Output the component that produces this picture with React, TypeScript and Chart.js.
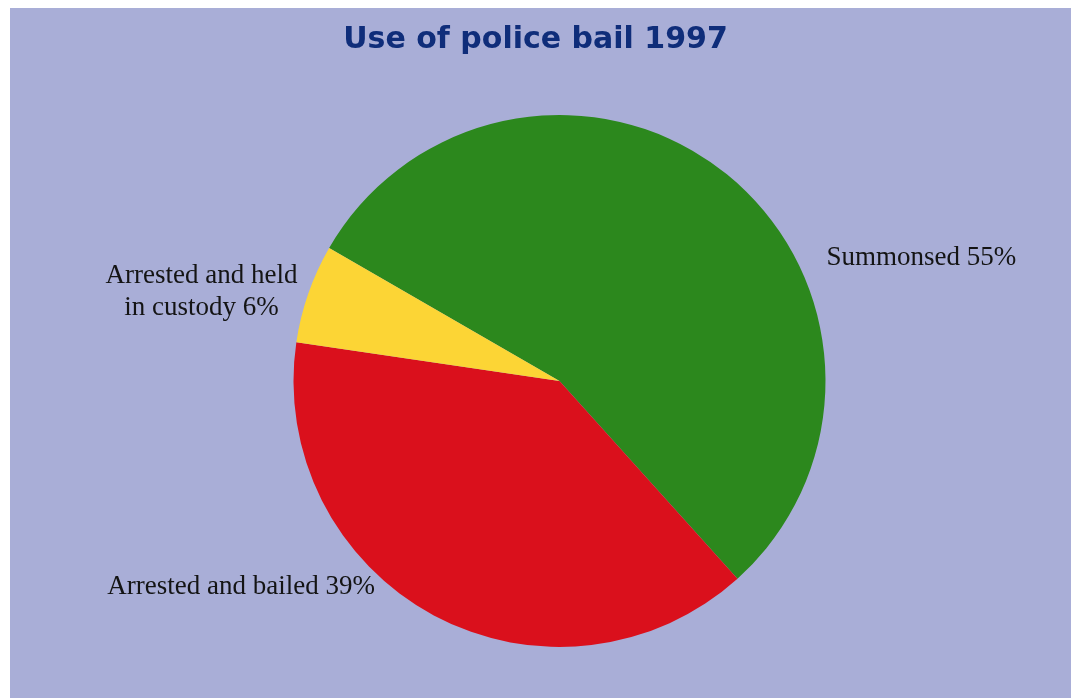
import React, { useEffect, useRef } from "react";
import { Chart, registerables } from "chart.js";

Chart.register(...registerables);

const TITLE = "Use of police bail 1997";
const categories = ["Summonsed", "Arrested and bailed", "Arrested and held in custody"];
const values = [55, 39, 6];
const colors = ["#2c881d", "#da101c", "#fcd535"];
const labelLines = [
  ["Summonsed 55%"],
  ["Arrested and bailed 39%"],
  ["Arrested and held", "in custody 6%"],
];

// label placement relative to pie centre, in units of radius
const labelPlacement = [
  { dx: 1.004, dy: -0.462, align: "left" as CanvasTextAlign },
  { dx: -1.7, dy: 0.775, align: "left" as CanvasTextAlign },
  { dx: -1.346, dy: -0.395, align: "center" as CanvasTextAlign },
];

const W = 1071;
const H = 698;

const backgroundPlugin = {
  id: "bgPanel",
  beforeDraw(chart: any) {
    const ctx = chart.ctx as CanvasRenderingContext2D;
    ctx.save();
    ctx.fillStyle = "#ffffff";
    ctx.fillRect(0, 0, chart.width, chart.height);
    ctx.fillStyle = "#a9aed7";
    ctx.fillRect(10, 8, chart.width - 10, chart.height - 8);
    // title
    ctx.fillStyle = "#0f2d7a";
    ctx.font = "bold 30px 'DejaVu Sans', Verdana, sans-serif";
    ctx.textAlign = "center";
    ctx.textBaseline = "alphabetic";
    ctx.fillText(TITLE, chart.width / 2, 48);
    ctx.restore();
  },
};

const labelPlugin = {
  id: "pieLabels",
  afterDatasetsDraw(chart: any) {
    const meta = chart.getDatasetMeta(0);
    const arc = meta.data[0];
    if (!arc) return;
    const { x, y, outerRadius } = arc.getProps(["x", "y", "outerRadius"], true);
    const ctx = chart.ctx as CanvasRenderingContext2D;
    ctx.save();
    ctx.fillStyle = "#141414";
    ctx.font = "27px 'Liberation Serif', 'Times New Roman', serif";
    ctx.textBaseline = "middle";
    labelLines.forEach((lines, i) => {
      const p = labelPlacement[i];
      ctx.textAlign = p.align;
      lines.forEach((line, j) => {
        ctx.fillText(line, x + p.dx * outerRadius, y + p.dy * outerRadius + j * 32);
      });
    });
    ctx.restore();
  },
};

export default function App() {
  const ref = useRef<HTMLCanvasElement>(null);
  useEffect(() => {
    if (!ref.current) return;
    const chart = new Chart(ref.current, {
      type: "pie",
      data: {
        labels: categories,
        datasets: [
          {
            data: values,
            backgroundColor: colors,
            borderWidth: 0,
          },
        ],
      },
      options: {
        responsive: false,
        animation: false,
        rotation: -60,
        layout: { padding: { top: 115, bottom: 51, left: 293, right: 245 } },
        plugins: {
          legend: { display: false },
          title: { display: false },
          tooltip: { enabled: false },
        },
      },
      plugins: [backgroundPlugin, labelPlugin],
    });
    return () => chart.destroy();
  }, []);
  return (
    <div style={{ position: "absolute", left: 0, top: 0, width: W, height: H }}>
      <canvas ref={ref} width={W} height={H} style={{ display: "block" }} />
    </div>
  );
}
